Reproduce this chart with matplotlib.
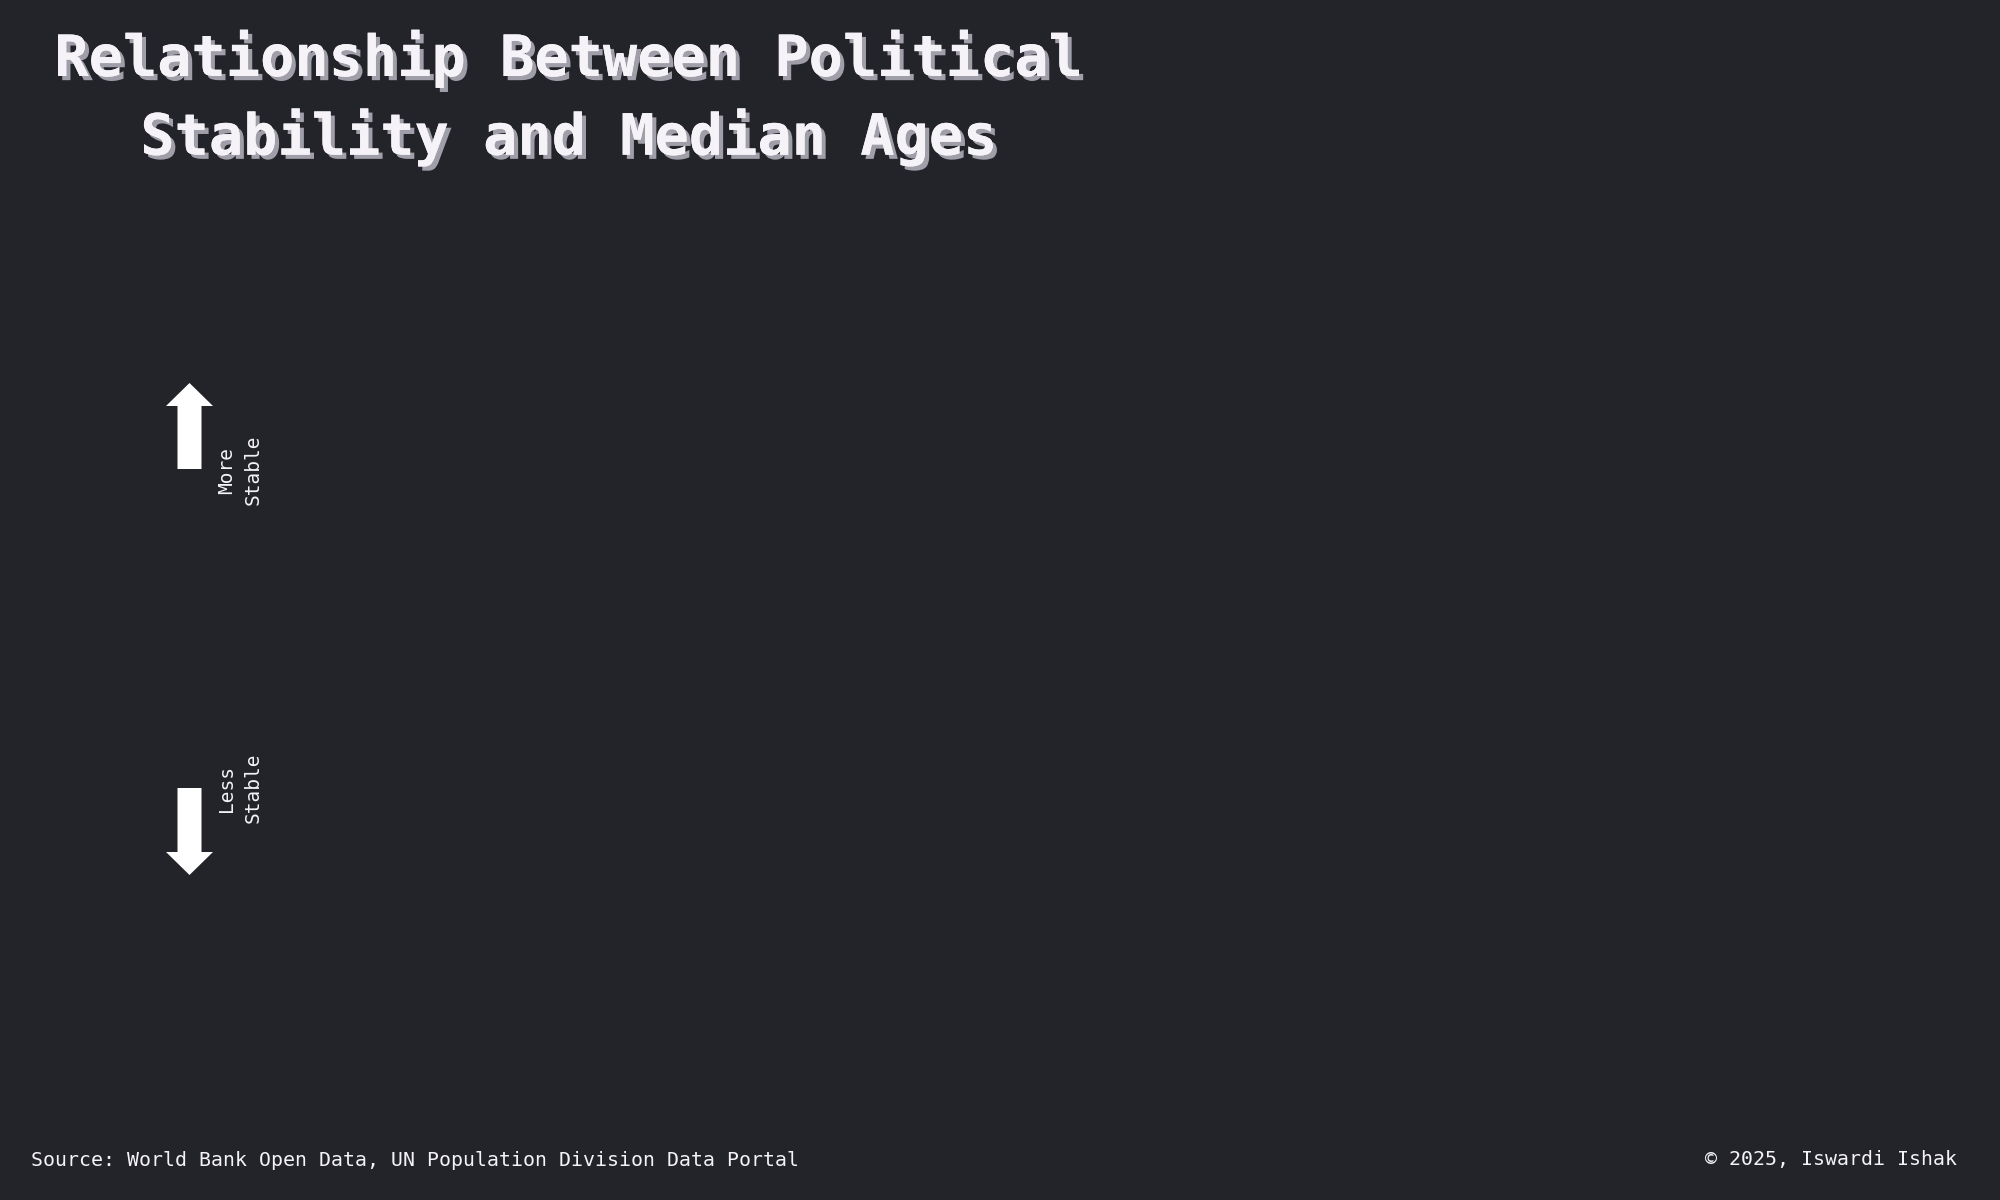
import matplotlib
matplotlib.use("Agg")
import matplotlib.pyplot as plt
import matplotlib.patheffects as pe
from matplotlib.patches import FancyArrow

# Text content
title = "Relationship Between Political\nStability and Median Ages"
up_label = "More\nStable"
down_label = "Less\nStable"
source = "Source: World Bank Open Data, UN Population Division Data Portal"
credit = "\u00a9 2025, Iswardi Ishak"

bg = "#232429"
fg = "#f5f3f7"
mono = ["DejaVu Sans Mono"]

fig = plt.figure(figsize=(20, 12), dpi=100, facecolor=bg)
# canvas axes in pixel units, y going down
ax = fig.add_axes([0, 0, 1, 1])
ax.set_xlim(0, 2000)
ax.set_ylim(1200, 0)
ax.axis("off")
ax.set_facecolor(bg)

ax.text(570, 30, title, ha="center", va="top", multialignment="center",
        fontsize=41, fontweight="bold", family=mono, color=fg, linespacing=1.45,
        path_effects=[pe.withSimplePatchShadow(offset=(3, -3), shadow_rgbFace="#a09ea8", alpha=1),
                      pe.Normal()])

# stability arrows
ax.add_patch(FancyArrow(189.5, 469, 0, -86, width=24, head_width=47, head_length=23,
                        length_includes_head=True, color="white", lw=0))
ax.add_patch(FancyArrow(189.5, 788, 0, 87, width=24, head_width=47, head_length=23,
                        length_includes_head=True, color="white", lw=0))

ax.text(240, 470, up_label, rotation=90, ha="center", va="center", multialignment="center",
        fontsize=14, family=mono, color=fg, linespacing=1.5)
ax.text(240, 788, down_label, rotation=90, ha="center", va="center", multialignment="center",
        fontsize=14, family=mono, color=fg, linespacing=1.5)

ax.text(31, 1160, source, ha="left", va="center", fontsize=14.3, family=mono, color=fg)
ax.text(1957, 1160, credit, ha="right", va="center", fontsize=14.3, family=mono, color=fg)

fig.savefig("out.png", dpi=100, facecolor=bg)
